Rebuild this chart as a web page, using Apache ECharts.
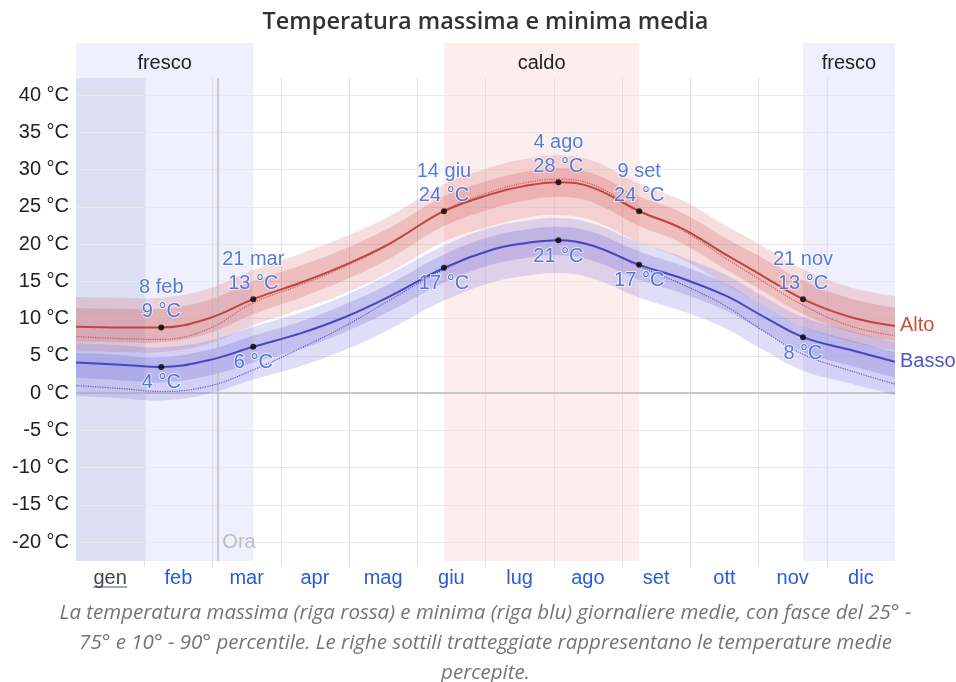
<!DOCTYPE html>
<html>
<head>
<meta charset="utf-8">
<title>Temperatura massima e minima media</title>
<script src="https://cdn.jsdelivr.net/npm/echarts@6/dist/echarts.min.js"></script>
<style>
  html, body { margin: 0; padding: 0; background: #fff; }
  #main { width: 956px; height: 682px; }
</style>
</head>
<body>
<div id="main"></div>
<script>
// giorno dell'anno (0 = 1 gen) dei punti
const days = [0, 20, 38, 59, 79, 100, 120, 140, 164, 185, 200, 215, 230, 251, 270, 290, 305, 324, 345, 365];

// massima media e fasce percentili
const high    = [8.9, 8.8, 8.8, 10.0, 12.6, 14.8, 17.2, 20.1, 24.4, 26.7, 27.8, 28.3, 27.6, 24.4, 22.1, 18.5, 15.9, 12.6, 10.2, 9.0];
const highP90 = [12.9, 12.8, 12.8, 14.0, 16.5, 18.7, 21.0, 23.8, 28.0, 30.3, 31.4, 31.9, 31.2, 28.1, 25.9, 22.4, 19.9, 16.6, 14.2, 13.0];
const highP75 = [11.4, 11.3, 11.3, 12.5, 15.0, 17.1, 19.4, 22.2, 26.4, 28.6, 29.7, 30.2, 29.5, 26.4, 24.2, 20.7, 18.3, 15.1, 12.7, 11.5];
const highP25 = [6.9, 6.8, 6.8, 8.0, 10.6, 12.8, 15.2, 18.1, 22.4, 24.7, 25.8, 26.3, 25.6, 22.4, 20.1, 16.5, 13.9, 10.6, 8.2, 7.0];
const highP10 = [5.6, 5.5, 5.5, 6.6, 9.1, 11.2, 13.4, 16.2, 20.3, 22.4, 23.5, 23.9, 23.2, 20.2, 18.0, 14.5, 12.0, 9.0, 6.9, 5.7];
const highFeel = [7.6, 7.3, 7.2, 8.6, 12.1, 14.5, 17.0, 20.0, 24.5, 27.0, 28.2, 28.7, 28.0, 24.5, 21.9, 18.0, 15.2, 11.8, 9.0, 7.7];

// minima media e fasce percentili
const low    = [4.1, 3.8, 3.5, 4.4, 6.2, 8.0, 10.2, 13.0, 16.8, 19.2, 20.1, 20.5, 19.8, 17.2, 15.4, 13.0, 10.5, 7.5, 5.8, 4.2];
const lowP90 = [6.7, 6.4, 6.1, 7.0, 8.9, 10.8, 13.1, 16.0, 19.8, 22.2, 23.1, 23.5, 22.8, 20.2, 18.3, 15.8, 13.2, 10.2, 8.4, 6.8];
const lowP75 = [5.4, 5.1, 4.8, 5.8, 7.7, 9.6, 11.9, 14.7, 18.6, 21.0, 21.9, 22.3, 21.6, 19.0, 17.1, 14.6, 12.0, 9.0, 7.1, 5.5];
const lowP25 = [2.0, 1.7, 1.4, 2.3, 4.1, 5.9, 8.2, 11.0, 14.8, 17.2, 18.1, 18.5, 17.8, 15.2, 13.4, 11.0, 8.5, 5.5, 3.7, 2.1];
const lowP10 = [-0.4, -0.7, -1.0, -0.1, 1.8, 3.6, 5.8, 8.6, 12.4, 14.8, 15.7, 16.1, 15.4, 12.8, 11.0, 8.6, 6.0, 3.0, 1.3, -0.3];
const lowFeel = [1.0, 0.6, 0.2, 0.9, 3.1, 6.0, 9.0, 12.5, 16.6, 19.2, 20.1, 20.5, 19.8, 17.0, 14.6, 11.6, 8.6, 5.2, 3.0, 1.2];

// etichette
const months = ['gen', 'feb', 'mar', 'apr', 'mag', 'giu', 'lug', 'ago', 'set', 'ott', 'nov', 'dic'];
const annLabels = ['8 feb', '21 mar', '14 giu', '4 ago', '9 set', '21 nov'];
const annDays = [38, 79, 164, 215, 251, 324];
const annHigh = [8.8, 12.6, 24.4, 28.3, 24.4, 12.6];
const annLow = [3.5, 6.2, 16.8, 20.5, 17.2, 7.5];

// stagioni
const seasonNames = ['fresco', 'caldo', 'fresco'];
const seasonFrom = [0, 164, 324];
const seasonTo = [79, 251, 365];
const seasonColors = ['#efeffd', '#fdeeee', '#efeffd'];

const nowDay = 63;       // linea "Ora"
const currentMonth = 0;  // gen evidenziato

const caption = 'La temperatura massima (riga rossa) e minima (riga blu) giornaliere medie, con fasce del 25° -\n' +
  '75° e 10° - 90° percentile. Le righe sottili tratteggiate rappresentano le temperature medie\n' +
  'percepite.';

const FONT = '"Liberation Sans", Arial, sans-serif';
const BLUE_TXT = '#2a5ad6';
const SMOOTH = 0.4;

function pairs(vals) {
  return days.map((d, i) => [d, vals[i]]);
}

// curva bezier come quella delle serie line (smooth) attraverso punti in pixel
function curve(pts, start) {
  let d = (start ? 'M' : 'L') + pts[0][0] + ' ' + pts[0][1];
  const n = pts.length;
  const cps = pts.map((p, i) => {
    if (i === 0 || i === n - 1) return [p, p];
    const prev = pts[i - 1], next = pts[i + 1];
    const vx = next[0] - prev[0], vy = next[1] - prev[1];
    const l0 = Math.hypot(p[0] - prev[0], p[1] - prev[1]);
    const l1 = Math.hypot(next[0] - p[0], next[1] - p[1]);
    const r = l1 / (l0 + l1);
    return [
      [p[0] - vx * SMOOTH * (1 - r), p[1] - vy * SMOOTH * (1 - r)],
      [p[0] + vx * SMOOTH * r, p[1] + vy * SMOOTH * r]
    ];
  });
  for (let i = 1; i < n; i++) {
    const c1 = cps[i - 1][1], c2 = cps[i][0], p = pts[i];
    d += 'C' + c1[0] + ' ' + c1[1] + ' ' + c2[0] + ' ' + c2[1] + ' ' + p[0] + ' ' + p[1];
  }
  return d;
}

// fascia percentile disegnata con serie custom
function band(lo, hi, color) {
  return {
    type: 'custom', xAxisIndex: 0, yAxisIndex: 0, silent: true, z: 2,
    data: days.map((d, i) => [d, lo[i], hi[i]]),
    encode: { x: 0, y: [1, 2] },
    renderItem: (params, api) => {
      if (params.dataIndex !== 0) return null;
      const top = days.map((d, i) => api.coord([d, hi[i]]));
      const bot = days.map((d, i) => api.coord([d, lo[i]])).reverse();
      return {
        type: 'path',
        shape: { pathData: curve(top, true) + curve(bot, false) + 'Z' },
        style: { fill: color, stroke: null }
      };
    }
  };
}

// colori delle righe di griglia orizzontali (-25 e 45/50 nascoste)
const yLineColors = [];
for (let v = -25; v <= 50; v += 5) {
  yLineColors.push(v < -20 || v > 40 ? 'rgba(0,0,0,0)' : '#e9e9e9');
}
// righe verticali ai confini dei mesi, senza i bordi esterni
const xLineColors = ['rgba(0,0,0,0)'];
months.slice(1).forEach(() => xLineColors.push('#e2e2e2'));
xLineColors.push('rgba(0,0,0,0)');

const chart = echarts.init(document.getElementById('main'));

const option = {
  animation: false,
  grid: [
    { left: 76, right: 61, top: 20.5, bottom: 102.75 },  // dati
    { left: 76, right: 61, top: 78, bottom: 115 },       // griglia mesi
    { left: 76, right: 61, top: 43, bottom: 121 },       // stagioni
    { left: 76, right: 61, top: 78, bottom: 121 }        // mese corrente / ora
  ],
  xAxis: [
    { type: 'value', gridIndex: 0, min: 0, max: 365, show: false },
    {
      type: 'category', gridIndex: 1, data: months, boundaryGap: true, z: 1,
      axisLine: { show: false }, axisTick: { show: false },
      splitLine: { show: true, interval: 0, lineStyle: { color: xLineColors, width: 1 } },
      axisLabel: {
        interval: 0, margin: 1, fontSize: 20, fontFamily: FONT, color: BLUE_TXT,
        formatter: (v, i) => i === currentMonth ? '{sel|' + v + '}' : v,
        rich: { sel: { color: '#444', fontSize: 20, fontFamily: FONT } }
      }
    },
    { type: 'value', gridIndex: 2, min: 0, max: 365, show: false },
    { type: 'value', gridIndex: 3, min: 0, max: 365, show: false }
  ],
  yAxis: [
    {
      type: 'value', gridIndex: 0, min: -25, max: 50, interval: 5, z: 1,
      axisLine: { show: false }, axisTick: { show: false },
      splitLine: { show: true, lineStyle: { color: yLineColors, width: 1 } },
      axisLabel: {
        margin: 7, fontSize: 20, fontFamily: FONT, color: '#222',
        formatter: v => (v < -20 || v > 40) ? '' : v + ' °C'
      }
    },
    { type: 'value', gridIndex: 1, show: false },
    { type: 'value', gridIndex: 2, min: 0, max: 1, show: false },
    { type: 'value', gridIndex: 3, min: 0, max: 1, show: false }
  ],
  graphic: [
    {
      type: 'text', x: 485.5, y: 22,
      style: {
        text: 'Temperatura massima e minima media', textAlign: 'center', textVerticalAlign: 'middle',
        fontSize: 23.5, fontWeight: 600, fontFamily: '"Open Sans", "Noto Sans", sans-serif', fill: '#333'
      }
    },
    {
      type: 'text', x: 485.5, y: 598,
      style: {
        text: caption, textAlign: 'center', textVerticalAlign: 'top', lineHeight: 30,
        fontSize: 20.5, fontStyle: 'italic', fontFamily: '"Open Sans", "Noto Sans", sans-serif', fill: '#747474'
      }
    }
  ],
  series: [
    // stagioni
    {
      type: 'line', xAxisIndex: 2, yAxisIndex: 2, data: [[0, 0]], symbol: 'none',
      lineStyle: { opacity: 0 }, silent: true, z: 0,
      markArea: {
        silent: true, z: 0,
        label: { show: true, position: 'insideTop', distance: 10, fontSize: 20, fontFamily: FONT, color: '#222' },
        data: seasonNames.map((n, i) => [
          { name: n, xAxis: seasonFrom[i], itemStyle: { color: seasonColors[i] } },
          { xAxis: seasonTo[i] }
        ])
      }
    },
    // mese corrente e linea "Ora"
    {
      type: 'line', xAxisIndex: 3, yAxisIndex: 3, data: [[0, 0]], symbol: 'none',
      lineStyle: { opacity: 0 }, silent: true, z: 0,
      markArea: {
        silent: true, z: 0.5,
        label: { show: false },
        data: [[
          { xAxis: days[0], itemStyle: { color: '#dbe0f5' } },
          { xAxis: 31 }
        ]]
      },
      markLine: {
        silent: true, symbol: 'none', z: 3,
        label: { show: false },
        lineStyle: { color: '#bdbdbd', width: 1.5, type: 'solid' },
        data: [{ xAxis: nowDay }]
      }
    },
    band(highP10, highP90, 'rgba(214,90,90,0.2)'),
    band(highP25, highP75, 'rgba(205,75,75,0.22)'),
    band(lowP10, lowP90, 'rgba(100,90,215,0.2)'),
    band(lowP25, lowP75, 'rgba(90,80,205,0.22)'),
    // temperature percepite
    {
      type: 'line', data: pairs(highFeel), smooth: SMOOTH, symbol: 'none', silent: true,
      lineStyle: { color: 'rgba(200,70,70,0.85)', width: 1.2, type: 'dotted' }
    },
    {
      type: 'line', data: pairs(lowFeel), smooth: SMOOTH, symbol: 'none', silent: true,
      lineStyle: { color: 'rgba(70,70,200,0.85)', width: 1.2, type: 'dotted' }
    },
    // medie
    {
      name: 'Alto', type: 'line', data: pairs(high), smooth: SMOOTH, symbol: 'none', silent: true,
      lineStyle: { color: '#c04444', width: 2 },
      endLabel: { show: true, formatter: 'Alto', distance: 5, fontSize: 20, fontFamily: FONT, color: '#c8503f' }
    },
    {
      name: 'Basso', type: 'line', data: pairs(low), smooth: SMOOTH, symbol: 'none', silent: true,
      lineStyle: { color: '#4646c4', width: 2 },
      endLabel: { show: true, formatter: 'Basso', distance: 5, fontSize: 20, fontFamily: FONT, color: '#5252c8' }
    },
    // annotazioni
    {
      type: 'scatter', data: annDays.map((d, i) => [d, annHigh[i], annLabels[i]]),
      symbol: 'circle', symbolSize: 6, itemStyle: { color: '#000' }, silent: true, z: 6,
      label: {
        show: true, position: 'top', distance: 1, fontSize: 20, lineHeight: 24, fontFamily: FONT,
        color: BLUE_TXT, textBorderColor: 'rgba(255,255,255,0.8)', textBorderWidth: 2,
        formatter: p => p.data[2] + '\n' + Math.round(p.data[1]) + ' °C'
      }
    },
    {
      type: 'scatter', data: annDays.map((d, i) => [d, annLow[i]]),
      symbol: 'circle', symbolSize: 6, itemStyle: { color: '#000' }, silent: true, z: 6,
      label: {
        show: true, position: 'bottom', distance: 1, fontSize: 20, lineHeight: 24, fontFamily: FONT,
        color: BLUE_TXT, textBorderColor: 'rgba(255,255,255,0.8)', textBorderWidth: 2,
        formatter: p => Math.round(p.data[1]) + ' °C'
      }
    },
    // testo "Ora" e riga dello zero
    {
      type: 'scatter', data: [[nowDay, -20]], symbolSize: 0, silent: true,
      label: { show: true, position: 'right', distance: 5, formatter: 'Ora', fontSize: 20, fontFamily: FONT, color: '#b3b3b3' },
      markLine: {
        silent: true, symbol: 'none', z: 1,
        label: { show: false },
        lineStyle: { color: '#c8c8c8', width: 2, type: 'solid' },
        data: [{ yAxis: 0 }]
      }
    }
  ]
};

chart.setOption(option);

// sottolineatura del mese corrente
const gx = chart.convertToPixel({ xAxisIndex: 1 }, currentMonth);
chart.setOption({
  graphic: [
    {}, {},
    {
      type: 'line', silent: true,
      shape: { x1: gx - 17, y1: 587, x2: gx + 17, y2: 587 },
      style: { stroke: '#7f8ea3', lineWidth: 1.5 }
    }
  ]
});
</script>
</body>
</html>
